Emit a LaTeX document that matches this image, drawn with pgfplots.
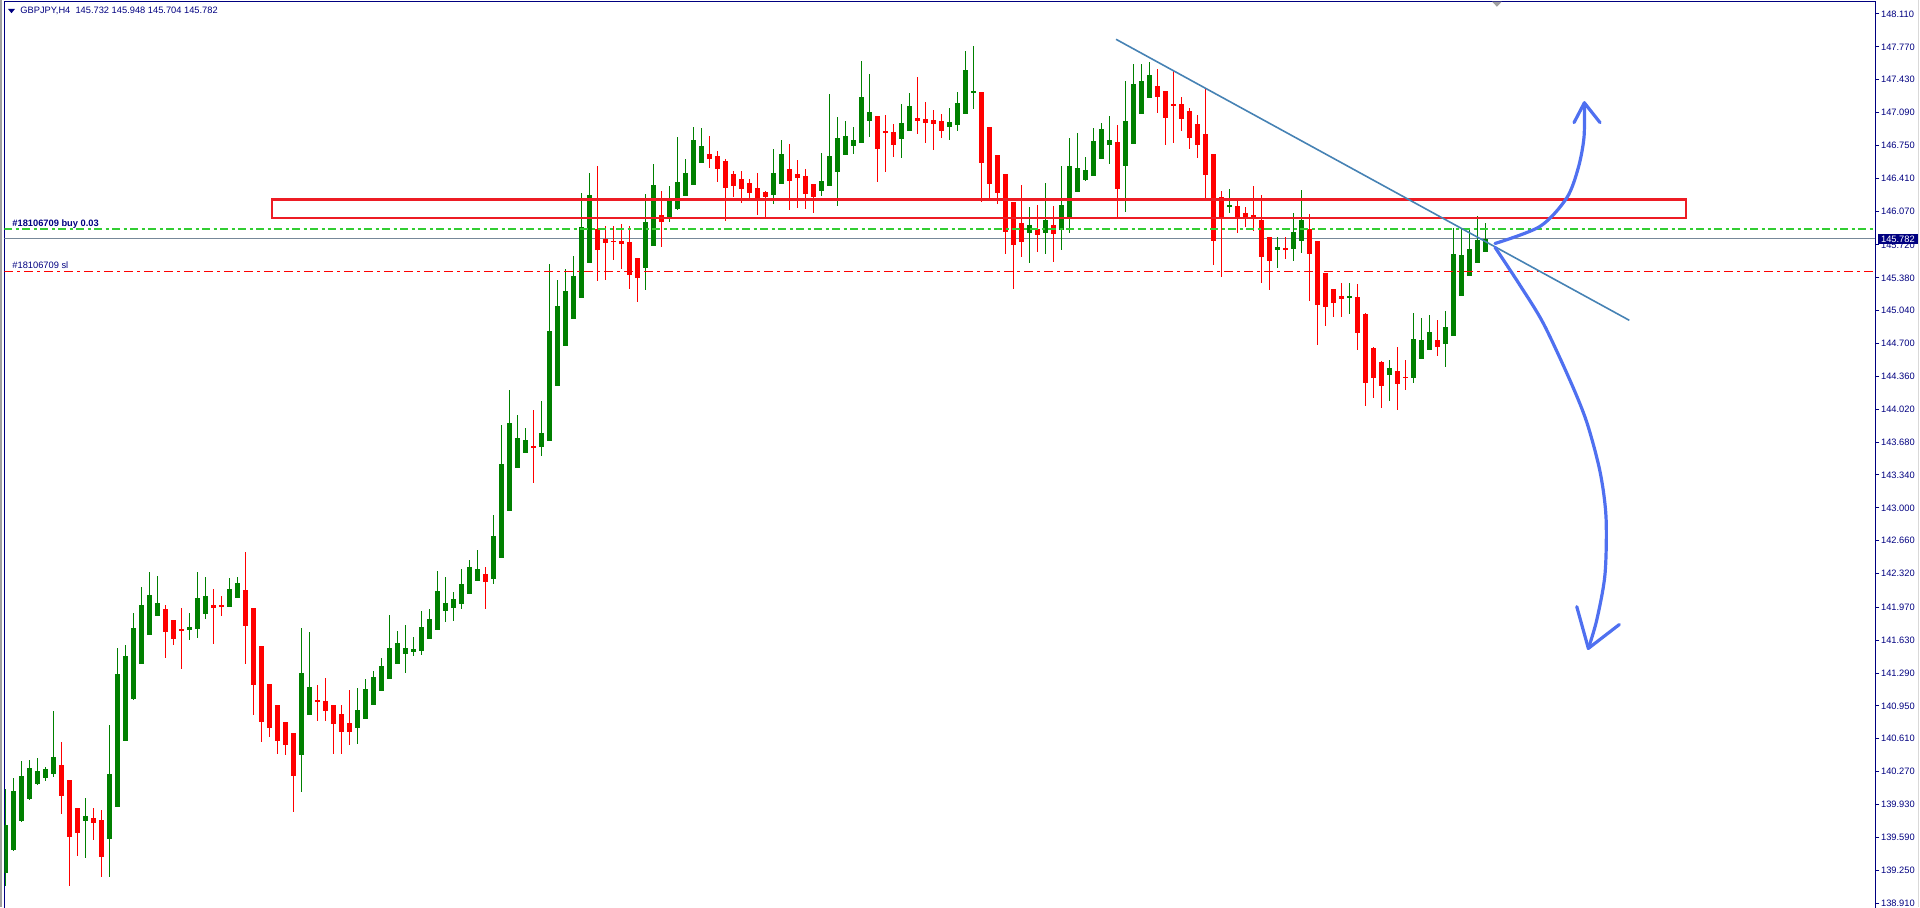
\documentclass[border=0pt]{standalone}
\usepackage{pgfplots}
\pgfplotsset{compat=1.18}
\usepackage{pgfplotstable}
\usepackage{fontspec}
\setmainfont{Liberation Sans}
\definecolor{candgreen}{RGB}{0,128,0}
\definecolor{candred}{RGB}{255,0,0}
\definecolor{mtnavy}{RGB}{0,0,128}
\definecolor{buygreen}{RGB}{50,205,50}
\definecolor{pricegray}{RGB}{119,136,153}
\definecolor{zonered}{RGB}{237,28,36}
\definecolor{trendblue}{RGB}{70,130,180}
\definecolor{arrowblue}{RGB}{79,112,240}
\definecolor{framegray}{RGB}{160,160,160}

\pgfplotstableread{
i O H L C
0 139.224 140.090 139.090 139.717
1 139.459 140.207 139.452 140.069
2 139.759 140.380 139.752 140.224
3 139.986 140.390 139.980 140.307
4 140.142 140.411 140.136 140.276
5 140.207 140.321 140.173 140.297
6 140.245 140.897 140.217 140.421
7 140.338 140.576 139.828 140.021
8 140.183 140.186 139.090 139.597
9 139.893 139.896 139.400 139.638
10 139.762 140.000 139.379 139.810
11 139.790 139.893 139.566 139.742
12 139.769 139.873 139.183 139.390
13 139.576 140.752 139.183 140.245
14 139.907 141.549 139.900 141.280
15 140.590 141.580 140.585 141.466
16 141.021 141.911 141.015 141.756
17 141.387 142.180 141.380 141.994
18 141.687 142.335 141.680 142.097
19 141.884 142.294 141.880 142.015
20 141.953 141.994 141.449 141.718
21 141.839 141.842 141.583 141.646
22 141.746 141.963 141.335 141.728
23 141.739 141.911 141.635 141.766
24 141.749 142.335 141.656 142.066
25 141.904 142.284 141.853 142.087
26 141.994 142.160 141.594 141.966
27 141.994 142.087 141.884 141.977
28 141.977 142.273 141.972 142.160
29 142.070 142.284 142.065 142.222
30 142.149 142.542 141.387 141.780
31 141.963 141.966 140.860 141.170
32 141.570 141.573 140.580 140.787
33 141.176 141.179 140.631 140.725
34 140.959 140.962 140.456 140.590
35 140.783 140.786 140.445 140.549
36 140.669 140.672 139.852 140.228
37 140.445 141.756 140.062 141.290
38 140.859 141.714 140.855 141.145
39 141.011 141.166 140.797 140.990
40 141.001 141.239 140.797 140.900
41 140.959 140.962 140.456 140.766
42 140.866 140.959 140.456 140.683
43 140.773 141.114 140.549 140.683
44 140.725 141.135 140.559 140.907
45 140.818 141.228 140.815 141.125
46 140.962 141.311 140.958 141.249
47 141.107 141.446 141.103 141.363
48 141.232 141.890 141.228 141.549
49 141.387 141.725 141.383 141.601
50 141.490 141.787 141.294 141.549
51 141.511 141.663 141.470 141.539
52 141.521 141.932 141.480 141.766
53 141.646 141.953 141.642 141.849
54 141.739 142.346 141.735 142.139
55 141.935 142.284 141.822 142.015
56 141.966 142.128 141.832 142.056
57 142.008 142.367 141.956 142.211
58 142.111 142.460 142.107 142.387
59 142.246 142.563 142.242 142.367
60 142.315 142.387 141.956 142.236
61 142.267 142.925 142.215 142.708
62 142.484 143.857 142.480 143.453
63 142.970 144.219 142.966 143.877
64 143.415 143.960 143.411 143.722
65 143.570 143.826 143.566 143.702
66 143.639 144.012 143.260 143.619
67 143.633 144.105 143.539 143.774
68 143.695 145.523 143.691 144.830
69 144.264 145.357 144.260 145.088
70 144.678 145.471 144.674 145.243
71 144.957 145.606 144.953 145.399
72 145.174 146.258 145.170 145.906
73 145.537 146.465 145.533 146.237
74 145.885 146.537 145.350 145.671
75 145.782 145.916 145.361 145.744
76 145.766 145.916 145.568 145.752
77 145.761 145.937 145.475 145.733
78 145.751 145.916 145.268 145.413
79 145.585 145.588 145.133 145.382
80 145.485 146.247 145.257 145.958
81 145.713 146.558 145.709 146.340
82 146.030 146.278 145.702 145.961
83 146.009 146.330 145.958 146.206
84 146.092 146.837 146.088 146.371
85 146.227 146.609 146.223 146.465
86 146.340 146.941 146.336 146.806
87 146.568 146.930 146.564 146.744
88 146.661 146.847 146.516 146.609
89 146.640 146.692 146.371 146.509
90 146.589 146.609 145.968 146.309
91 146.454 146.485 146.216 146.330
92 146.402 146.485 146.154 146.302
93 146.361 146.402 146.196 146.261
94 146.309 146.465 146.030 146.185
95 146.268 146.278 146.013 146.220
96 146.240 146.713 146.147 146.465
97 146.354 146.806 146.350 146.661
98 146.506 146.765 146.085 146.385
99 146.454 146.599 146.106 146.416
100 146.434 146.506 146.096 146.251
101 146.351 146.354 146.054 146.220
102 146.282 146.672 146.230 146.382
103 146.334 147.282 146.330 146.641
104 146.478 147.044 146.127 146.827
105 146.654 147.003 146.650 146.848
106 146.748 146.941 146.665 146.806
107 146.779 147.624 146.775 147.251
108 147.006 147.489 146.841 147.096
109 147.055 147.058 146.375 146.717
110 146.895 147.065 146.479 146.879
111 146.889 146.972 146.634 146.758
112 146.820 147.179 146.623 146.982
113 146.903 147.293 146.899 147.158
114 147.034 147.458 146.872 147.006
115 147.024 147.199 146.779 146.986
116 147.013 147.117 146.706 146.975
117 147.003 147.075 146.830 146.903
118 146.944 147.137 146.810 146.993
119 146.965 147.303 146.903 147.189
120 147.079 147.727 147.075 147.531
121 147.296 147.779 147.130 147.310
122 147.303 147.306 146.168 146.572
123 146.941 146.944 146.199 146.354
124 146.651 146.654 146.147 146.261
125 146.454 146.457 145.630 145.858
126 146.165 146.168 145.268 145.723
127 145.947 146.340 145.599 145.754
128 145.847 146.113 145.537 145.927
129 145.885 146.134 145.651 145.827
130 145.847 146.361 145.630 145.978
131 145.927 146.123 145.547 145.837
132 145.878 146.537 145.671 146.134
133 146.013 146.827 145.847 146.537
134 146.272 146.879 146.268 146.516
135 146.396 146.630 146.385 146.496
136 146.437 146.930 146.433 146.796
137 146.613 146.982 146.609 146.920
138 146.758 147.055 146.561 146.806
139 146.785 146.961 146.013 146.303
140 146.541 147.417 146.065 147.003
141 146.768 147.593 146.764 147.386
142 147.079 147.593 147.075 147.417
143 147.244 147.613 147.240 147.479
144 147.365 147.541 147.089 147.255
145 147.313 147.316 146.758 147.037
146 147.180 147.531 146.779 147.166
147 147.179 147.251 146.903 147.027
148 147.106 147.137 146.717 146.830
149 146.972 147.065 146.623 146.758
150 146.868 147.334 146.199 146.447
151 146.661 146.664 145.516 145.764
152 146.216 146.278 145.392 146.013
153 146.120 146.299 146.054 146.132
154 146.123 146.175 145.847 146.013
155 146.051 146.113 145.909 146.013
156 146.030 146.330 145.861 146.013
157 145.982 146.237 145.330 145.599
158 145.802 145.805 145.257 145.557
159 145.671 145.802 145.485 145.699
160 145.688 145.802 145.578 145.671
161 145.681 146.051 145.557 145.854
162 145.764 146.289 145.640 145.978
163 145.885 146.040 145.143 145.630
164 145.761 145.764 144.688 145.102
165 145.430 145.433 144.885 145.081
166 145.264 145.267 144.978 145.123
167 145.195 145.326 144.978 145.164
168 145.174 145.326 145.009 145.195
169 145.185 145.316 144.636 144.812
170 145.009 145.012 144.057 144.295
171 144.657 144.660 144.140 144.347
172 144.512 144.515 144.036 144.264
173 144.378 144.533 144.109 144.447
174 144.419 144.667 144.015 144.285
175 144.360 144.533 144.223 144.345
176 144.347 145.016 144.295 144.747
177 144.543 144.964 144.539 144.736
178 144.636 144.999 144.632 144.823
179 144.736 144.943 144.574 144.667
180 144.698 145.040 144.460 144.871
181 144.781 145.895 144.777 145.626
182 145.195 145.885 145.191 145.616
183 145.402 145.895 145.398 145.678
184 145.537 146.020 145.533 145.771
185 145.650 145.950 145.648 145.782
}\candles

\newcommand{\mtfont}{\fontsize{4.65pt}{5pt}\selectfont}

\begin{document}
\begin{tikzpicture}
\useasboundingbox (-2.15pt,1.5pt) rectangle (957.85pt,455pt);
\begin{axis}[
  at={(0,0)}, anchor=south west,
  scale only axis, width=935.5pt, height=454.15pt,
  xmin=-0.175, xmax=233.7, ymin=138.838, ymax=148.237,
  axis line style={draw=mtnavy, line width=0.5pt},
  xtick=\empty,
  ytick={138.910,139.250,139.590,139.930,140.270,140.610,140.950,141.290,141.630,141.970,142.320,142.660,143.000,143.340,143.680,144.020,144.360,144.700,145.040,145.380,145.720,146.070,146.410,146.750,147.090,147.430,147.770,148.110},
  yticklabels={138.910,139.250,139.590,139.930,140.270,140.610,140.950,141.290,141.630,141.970,142.320,142.660,143.000,143.340,143.680,144.020,144.360,144.700,145.040,145.380,145.720,146.070,146.410,146.750,147.090,147.430,147.770,148.110},
  ytick pos=right, yticklabel pos=right, tick align=outside, major tick length=2pt,
  tick style={draw=mtnavy, line width=0.5pt},
  yticklabel style={font=\mtfont, text=mtnavy, anchor=west, inner xsep=0pt, xshift=0.7pt},
]
% current price line
\addplot[pricegray, line width=0.5pt, forget plot] coordinates {(-0.2,145.782) (233.7,145.782)};

% wicks
\addplot[draw=none, forget plot, restrict expr to domain={\thisrow{C}-\thisrow{O}}{0:100},
  error bars/.cd, y dir=both, y explicit, error mark=none,
  error bar style={draw=candgreen, line width=0.5pt, solid}]
  table[x=i, y expr={(\thisrow{H}+\thisrow{L})/2}, y error expr={(\thisrow{H}-\thisrow{L})/2}] {\candles};
\addplot[draw=none, forget plot, restrict expr to domain={\thisrow{C}-\thisrow{O}}{-100:0},
  error bars/.cd, y dir=both, y explicit, error mark=none,
  error bar style={draw=candred, line width=0.5pt, solid}]
  table[x=i, y expr={(\thisrow{H}+\thisrow{L})/2}, y error expr={(\thisrow{H}-\thisrow{L})/2}] {\candles};
% bodies
\addplot[draw=none, forget plot, restrict expr to domain={\thisrow{C}-\thisrow{O}}{0:100},
  error bars/.cd, y dir=both, y explicit, error mark=none,
  error bar style={draw=candgreen, line width=2.5pt, solid}]
  table[x=i, y expr={(\thisrow{O}+\thisrow{C})/2}, y error expr={abs(\thisrow{C}-\thisrow{O})/2}] {\candles};
\addplot[draw=none, forget plot, restrict expr to domain={\thisrow{C}-\thisrow{O}}{-100:0},
  error bars/.cd, y dir=both, y explicit, error mark=none,
  error bar style={draw=candred, line width=2.5pt, solid}]
  table[x=i, y expr={(\thisrow{O}+\thisrow{C})/2}, y error expr={abs(\thisrow{C}-\thisrow{O})/2}] {\candles};

% order lines
\addplot[buygreen, line width=1pt, dash pattern=on 4pt off 1.75pt on 1.5pt off 1.75pt, forget plot]
  coordinates {(-0.2,145.888) (233.7,145.888)};
\addplot[candred, line width=0.5pt, dash pattern=on 4.5pt off 2pt on 1.5pt off 2pt, forget plot]
  coordinates {(-0.2,145.443) (233.7,145.443)};

% resistance zone
\addplot[zonered, line width=1.35pt, line join=miter, forget plot]
  coordinates {(33.29,146.0) (33.29,146.192) (210.04,146.192) (210.04,146.0)} -- cycle;

% trend line
\addplot[trendblue, line width=0.8pt, forget plot] coordinates {(138.79,147.848) (202.95,144.940)};

% scenario arrows
\addplot[arrowblue, line width=1.6pt, smooth, line cap=round, forget plot] coordinates {
  (186.16,145.735) (191.79,145.912) (195.13,146.207) (196.58,146.521) (197.29,146.837) (197.33,147.191)};
\addplot[arrowblue, line width=1.6pt, line cap=round, line join=round, forget plot]
  coordinates {(196.04,146.986) (197.33,147.191) (199.29,146.986)};
\addplot[arrowblue, line width=1.6pt, smooth, line cap=round, forget plot] coordinates {
  (186.16,145.696) (189.29,145.302) (192.20,144.909) (195.54,144.318) (197.63,143.886)
  (199.29,143.374) (200.04,142.901) (199.91,142.312) (198.88,141.839) (197.83,141.545)};
\addplot[arrowblue, line width=1.6pt, line cap=round, line join=round, forget plot]
  coordinates {(196.38,141.977) (197.83,141.545) (201.70,141.792)};

% texts
\node[anchor=base west, inner sep=0pt, text=mtnavy, font=\mtfont] at (axis cs:1.79,148.11)
  {GBPJPY,H4\ \ 145.732 145.948 145.704 145.782};
\fill[mtnavy] (axis cs:0.29,148.162) -- (axis cs:1.16,148.162) -- (axis cs:0.725,148.118) -- cycle;
\fill[framegray] (axis cs:185.8,148.237) -- (axis cs:187.0,148.237) -- (axis cs:186.4,148.185) -- cycle;
\node[anchor=base west, inner sep=0pt, text=mtnavy, font=\mtfont\bfseries] at (axis cs:0.79,145.909)
  {\#18106709 buy 0.03};
\node[anchor=base west, inner sep=0pt, text=mtnavy, font=\mtfont] at (axis cs:0.79,145.478)
  {\#18106709 sl};
\coordinate (cp) at (axis cs:233.7,145.782);
\end{axis}
\node[fill=mtnavy, text=white, anchor=west, inner xsep=1.6pt, inner ysep=0pt, minimum height=5pt, font=\mtfont]
  at ([xshift=1.1pt]cp) {145.782};
\draw[framegray, line width=0.6pt] (-1.7pt,1.5pt) -- (-1.7pt,455pt);
\draw[black!15, line width=0.6pt] (956.9pt,1.5pt) -- (956.9pt,455pt);
\end{tikzpicture}
\end{document}
